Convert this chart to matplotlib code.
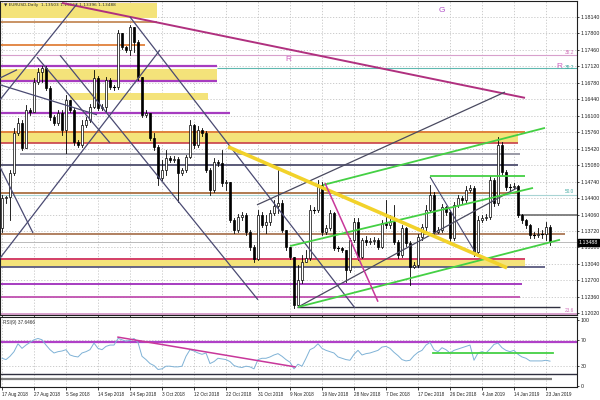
import numpy as np
import matplotlib
matplotlib.use("Agg")
import matplotlib.pyplot as plt
import matplotlib.transforms as mtransforms

# --------------------------------------------------------------------------- #
# Data (EURUSD daily, MT4 style, bar index 0 = 17 Aug 2018)
# --------------------------------------------------------------------------- #
first_open = 1.1378
closes = [1.1440, 1.1442, 1.1492, 1.1575, 1.1595, 1.1544, 1.1622, 1.1618, 1.1680, 1.1700,
          1.1709, 1.1667, 1.1608, 1.1595, 1.1616, 1.1581, 1.1643, 1.1622, 1.1556, 1.1550,
          1.1591, 1.1601, 1.1628, 1.1688, 1.1626, 1.1628, 1.1684, 1.1669, 1.1669, 1.1781,
          1.1752, 1.1746, 1.1793, 1.1762, 1.1690, 1.1612, 1.1616, 1.1564, 1.1546, 1.1482,
          1.1498, 1.1523, 1.1519, 1.1521, 1.1492, 1.1498, 1.1525, 1.1591, 1.1550, 1.1581,
          1.1575, 1.1498, 1.1457, 1.1515, 1.1513, 1.1471, 1.1473, 1.1395, 1.1374, 1.1401,
          1.1405, 1.1370, 1.1339, 1.1314, 1.1405, 1.1385, 1.1391, 1.1409, 1.1424, 1.1430,
          1.1374, 1.1339, 1.1318, 1.1219, 1.1271, 1.1308, 1.1316, 1.1415, 1.1415, 1.1467,
          1.1370, 1.1378, 1.1409, 1.1337, 1.1337, 1.1333, 1.1292, 1.1354, 1.1391, 1.1318,
          1.1354, 1.1349, 1.1351, 1.1354, 1.1339, 1.1389, 1.1385, 1.1391, 1.1349, 1.1323,
          1.1378, 1.1347, 1.1298, 1.1302, 1.1360, 1.1380, 1.1415, 1.1446, 1.1370, 1.1374,
          1.1422, 1.1411, 1.1358, 1.1426, 1.1440, 1.1436, 1.1457, 1.1461, 1.1329, 1.1395,
          1.1399, 1.1401, 1.1477, 1.1430, 1.1550, 1.1494, 1.1463, 1.1463, 1.1465, 1.1405,
          1.1395, 1.1385, 1.1364, 1.1364, 1.1366, 1.1366, 1.1380, 1.1349]
highs = [1.1446, 1.1444, 1.1498, 1.1585, 1.1605, 1.1601, 1.1632, 1.1626, 1.1688, 1.1709,
         1.1713, 1.1713, 1.1672, 1.1612, 1.1622, 1.1622, 1.1653, 1.1643, 1.1626, 1.1560,
         1.1601, 1.1608, 1.1634, 1.1705, 1.1692, 1.1634, 1.1690, 1.1688, 1.1674, 1.1787,
         1.1781, 1.1754, 1.1797, 1.1767, 1.1767, 1.1690, 1.1622, 1.1601, 1.1575, 1.1550,
         1.1519, 1.1539, 1.1527, 1.1527, 1.1525, 1.1502, 1.1529, 1.1601, 1.1593, 1.1589,
         1.1585, 1.1579, 1.1502, 1.1523, 1.1519, 1.1539, 1.1477, 1.1473, 1.1399, 1.1407,
         1.1411, 1.1409, 1.1374, 1.1343, 1.1415, 1.1411, 1.1405, 1.1415, 1.1436, 1.1498,
         1.1436, 1.1370, 1.1325, 1.1316, 1.1302, 1.1323, 1.1333, 1.1426, 1.1422, 1.1477,
         1.1473, 1.1385, 1.1415, 1.1411, 1.1341, 1.1339, 1.1333, 1.1358, 1.1399, 1.1399,
         1.1358, 1.1362, 1.1358, 1.1360, 1.1358, 1.1395, 1.1436, 1.1405, 1.1426, 1.1354,
         1.1385, 1.1380, 1.1351, 1.1308, 1.1366, 1.1387, 1.1426, 1.1467, 1.1453, 1.1380,
         1.1428, 1.1424, 1.1415, 1.1432, 1.1446, 1.1444, 1.1465, 1.1467, 1.1465, 1.1403,
         1.1405, 1.1407, 1.1486, 1.1482, 1.1566, 1.1556, 1.1498, 1.1469, 1.1471, 1.1467,
         1.1407, 1.1397, 1.1387, 1.1370, 1.1378, 1.1374, 1.1391, 1.1385]
lows = [1.1370, 1.1430, 1.1395, 1.1488, 1.1570, 1.1539, 1.1544, 1.1612, 1.1618, 1.1676,
        1.1680, 1.1663, 1.1601, 1.1591, 1.1591, 1.1570, 1.1533, 1.1618, 1.1550, 1.1546,
        1.1546, 1.1587, 1.1597, 1.1626, 1.1622, 1.1622, 1.1618, 1.1665, 1.1663, 1.1665,
        1.1748, 1.1742, 1.1736, 1.1742, 1.1684, 1.1608, 1.1608, 1.1560, 1.1539, 1.1467,
        1.1477, 1.1488, 1.1515, 1.1515, 1.1432, 1.1488, 1.1494, 1.1523, 1.1544, 1.1546,
        1.1568, 1.1494, 1.1446, 1.1453, 1.1506, 1.1465, 1.1457, 1.1391, 1.1368, 1.1370,
        1.1395, 1.1364, 1.1333, 1.1308, 1.1312, 1.1380, 1.1368, 1.1385, 1.1405, 1.1409,
        1.1370, 1.1333, 1.1314, 1.1213, 1.1219, 1.1265, 1.1308, 1.1312, 1.1409, 1.1411,
        1.1364, 1.1366, 1.1374, 1.1333, 1.1331, 1.1329, 1.1267, 1.1287, 1.1349, 1.1312,
        1.1316, 1.1343, 1.1345, 1.1345, 1.1335, 1.1337, 1.1378, 1.1378, 1.1345, 1.1316,
        1.1318, 1.1341, 1.1261, 1.1296, 1.1298, 1.1354, 1.1374, 1.1411, 1.1362, 1.1368,
        1.1370, 1.1405, 1.1351, 1.1354, 1.1422, 1.1430, 1.1432, 1.1453, 1.1320, 1.1323,
        1.1391, 1.1395, 1.1397, 1.1424, 1.1426, 1.1488, 1.1457, 1.1457, 1.1459, 1.1401,
        1.1389, 1.1378, 1.1358, 1.1358, 1.1360, 1.1358, 1.1354, 1.1343]

rsi = [42, 40, 45, 52, 64, 57, 62, 66, 70, 72, 70, 62, 55, 50, 52, 53, 55, 47, 45, 44,
       50, 52, 55, 65, 57, 55, 60, 62, 62, 72, 70, 68, 69, 72, 66, 45, 40, 34, 31, 25,
       26, 30, 30, 29, 29, 30, 45, 55, 53, 50, 48, 50, 34, 37, 42, 41, 40, 37, 31, 29,
       28, 30, 29, 26, 40, 42, 42, 44, 47, 49, 45, 40, 36, 26, 33, 30, 42, 55, 58, 64,
       57, 54, 52, 50, 44, 42, 40, 39, 48, 54, 47, 49, 50, 52, 54, 59, 60, 57, 51, 46,
       40, 38, 39, 46, 51, 54, 62, 66, 55, 52, 58, 55, 50, 54, 56, 58, 60, 62, 39, 50,
       52, 50, 56, 63, 65, 58, 54, 52, 54, 48, 44, 42, 38, 38, 38, 38, 39, 37.6466]

date_labels = ["17 Aug 2018", "27 Aug 2018", "5 Sep 2018", "14 Sep 2018", "24 Sep 2018",
               "3 Oct 2018", "12 Oct 2018", "22 Oct 2018", "31 Oct 2018", "9 Nov 2018",
               "19 Nov 2018", "28 Nov 2018", "7 Dec 2018", "17 Dec 2018", "26 Dec 2018",
               "4 Jan 2019", "14 Jan 2019", "23 Jan 2019"]
bars_per_label = 8
price_ticks = [1.12020, 1.12360, 1.12700, 1.13040, 1.13380, 1.13720, 1.14060, 1.14400,
               1.14740, 1.15080, 1.15420, 1.15760, 1.16100, 1.16440, 1.16780, 1.17120,
               1.17460, 1.17800, 1.18140]
rsi_ticks = [0, 30, 70, 100]
bid = 1.13488
header = "EURUSD,Daily  1.13503 1.13667 1.13396 1.13488"

# horizontal levels: price, first bar, last bar
lvl_price = [1.1847, 1.1804, 1.1756, 1.1713, 1.1682, 1.1616, 1.1736, 1.1709,
             1.1577, 1.1554, 1.1531, 1.1508, 1.1451, 1.1446, 1.1405, 1.1366,
             1.1314, 1.1298, 1.1263, 1.1236, 1.1215, 1.1201]
lvl_start = [-0.5, -0.5, -0.5, -0.5, -0.5, -0.5, -0.5, 53.8,
             -0.5, -0.5, 4.5, -0.5, -0.5, -0.5, 128.8, -0.5,
             -0.5, -0.5, -0.5, -0.5, 73.8, -0.5]
lvl_end = [38.8, 38.8, 35.8, 53.8, 53.8, 57.0, 144, 144,
           130.8, 129.0, 129.5, 129.0, 129.5, 144, 144, 140.8,
           130.8, 135.8, 130.0, 129.5, 139.5, 144]
lvl_color = ["#a63cc0", "#c0804a", "#e0803a", "#a63cc0", "#a63cc0", "#a63cc0", "#d8a0cc", "#5fb8b0",
             "#e0803a", "#c8404a", "#9a9aa6", "#5a5a78", "#b07a50", "#a8d4d4", "#707070", "#b08060",
             "#d0305a", "#5a5a80", "#a63cc0", "#c050b0", "#303040", "#d8a0cc"]
lvl_lw = [1.6, 1.2, 1.3, 1.6, 1.6, 1.6, 0.8, 0.8,
          1.4, 1.2, 1.4, 1.4, 1.4, 0.8, 1.2, 1.4,
          1.3, 1.3, 1.4, 1.3, 1.0, 1.4]

# yellow zones: low, high, first bar, last bar
zone_low = [1.1812, 1.1684, 1.1643, 1.1554, 1.1298]
zone_high = [1.1843, 1.1707, 1.1657, 1.1574, 1.1312]
zone_start = [-0.5, -0.5, 17.0, -0.5, -0.5]
zone_end = [38.8, 53.8, 51.5, 129.0, 130.8]

# trend lines: (bar, price) -> (bar, price)
tl_x0 = [15.0, -0.5, -0.5, 8.75, -0.5, -0.5, 32.0, -0.5, 14.5, 63.75, 74.0, 107.0,
         72.0, 80.25, 74.0, 107.0, 56.5, 80.75]
tl_y0 = [1.1843, 1.1316, 1.1643, 1.1731, 1.1674, 1.1688, 1.1814, 1.1504, 1.1735, 1.1426,
         1.1215, 1.1484, 1.1341, 1.1467, 1.1215, 1.1486, 1.1546, 1.1471]
tl_x1 = [130.75, 39.5, 18.75, 27.0, 23.75, 3.75, 88.25, 7.75, 64.0, 125.75, 128.75, 118.25,
         132.75, 135.75, 139.5, 130.75, 126.25, 94.0]
tl_y1 = [1.1647, 1.1746, 1.1841, 1.1554, 1.1612, 1.1705, 1.1213, 1.1368, 1.1230, 1.1659,
         1.1461, 1.1329, 1.1461, 1.1585, 1.1354, 1.1486, 1.1296, 1.1226]
tl_color = ["#b0307f", "#4a4a72", "#4a4a72", "#4a4a72", "#4a4a72", "#4a4a72", "#4a4a72",
            "#4a4a72", "#4a4a72", "#4a4a60", "#4a4a60", "#4a4a72",
            "#44d044", "#44d044", "#44d044", "#44d044", "#f2d22a", "#c8379a"]
tl_lw = [1.4, 0.9, 0.9, 0.9, 0.9, 0.9, 0.9, 0.9, 0.9, 0.9, 0.9, 0.8,
         1.3, 1.3, 1.3, 1.3, 2.6, 1.1]

# fib / object labels in the chart
fib_text = ["38.2", "38.2", "50.0", "23.6"]
fib_price = [1.1741, 1.1710, 1.1453, 1.1207]
fib_color = ["#d070b8", "#40a8a0", "#40a8a0", "#d070b8"]

# RSI panel objects
rsi_lvl = [67, 18, 10.6]
rsi_lvl_color = ["#b040c8", "#303040", "#808080"]
rsi_lvl_end = [144, 144, 137.5]
rsi_lvl_lw = [1.6, 1.0, 1.6]
rsi_tl_x = [29.0, 73.25]
rsi_tl_y = [74, 29]
rsi_flat_x = [107.75, 137.75]
rsi_flat_y = 50

# --------------------------------------------------------------------------- #
# Figure
# --------------------------------------------------------------------------- #
plt.rcParams["font.family"] = ["Liberation Sans", "DejaVu Sans"]
fig = plt.figure(figsize=(6, 4), dpi=100)
fig.patch.set_facecolor("white")

ax = fig.add_axes([0.0, 0.2125, 577 / 600, 0.785])
rax = fig.add_axes([0.0, 0.0325, 577 / 600, 0.175])

x_lim = (-0.5, 143.75)
n = len(closes)
xs = np.arange(n)
opens = [first_open] + closes[:-1]

grid_kw = dict(color="#c4c4c4", linestyle=(0, (1.5, 2)), linewidth=0.6)
date_pos = [k * bars_per_label for k in range(len(date_labels))]

for a in (ax, rax):
    a.set_xlim(*x_lim)
    a.set_facecolor("white")
    a.set_xticks(date_pos)
    for v in date_pos:
        a.axvline(v, zorder=0, **grid_kw)
    for s in a.spines.values():
        s.set_color("#202020")
        s.set_linewidth(0.8)
    a.yaxis.tick_right()
    a.tick_params(axis="y", length=1.5, width=0.6, labelsize=3.8, pad=1, colors="#202020")
    a.tick_params(axis="x", length=2, width=0.6, colors="#202020")

ax.set_ylim(1.11986, 1.18470)
ax.set_yticks(price_ticks)
ax.set_yticklabels([f"{p:.5f}" for p in price_ticks])
ax.set_xticklabels([])
for p in price_ticks:
    ax.axhline(p, zorder=0, **grid_kw)

# zones and levels
for lo, hi, s, e in zip(zone_low, zone_high, zone_start, zone_end):
    ax.fill_between([s, e], lo, hi, color="#f4e37a", lw=0, zorder=1)
for p, s, e, c, w in zip(lvl_price, lvl_start, lvl_end, lvl_color, lvl_lw):
    ax.plot([s, e], [p, p], color=c, lw=w, zorder=2, solid_capstyle="butt")
ax.axhline(bid, color="#b0b0b0", lw=0.6, zorder=2)

# candles
for i in range(n):
    o, c, h, l = opens[i], closes[i], highs[i], lows[i]
    top, bot = max(o, c), min(o, c)
    ax.plot([i, i], [min(l, bot), max(h, top)], color="black", lw=0.6, zorder=4)
    body = top - bot
    if body < 0.00012:
        ax.plot([i - 0.35, i + 0.35], [c, c], color="black", lw=0.8, zorder=5)
    else:
        ax.bar(i, body, bottom=bot, width=0.62, color="white" if c >= o else "black",
               edgecolor="black", linewidth=0.5, zorder=5)

# trend lines
for x0, y0, x1, y1, c, w in zip(tl_x0, tl_y0, tl_x1, tl_y1, tl_color, tl_lw):
    ax.plot([x0, x1], [y0, y1], color=c, lw=w, zorder=6, solid_capstyle="butt")

# texts in main chart
ax.text(0.007, 0.993, "\u25bc " + header, transform=ax.transAxes, fontsize=3.1,
        color="#303030", va="top", ha="left", family=["DejaVu Sans"])
ax.text(110, 1.1828, "G", color="#b050c8", fontsize=6, ha="center", va="center")
ax.text(71.5, 1.1726, "R", color="#d060c0", fontsize=6, ha="center", va="center")
trans = mtransforms.blended_transform_factory(ax.transAxes, ax.transData)
for t, p, c in zip(fib_text, fib_price, fib_color):
    ax.text(0.995, p, t, transform=trans, fontsize=3.4, color=c, ha="right", va="center")
ax.text(0.974, 1.1712, "R", transform=trans, fontsize=6, color="#d060c0", ha="right", va="center")
ax.text(1.003, bid, f"{bid:.5f}", transform=trans, fontsize=3.8, color="white",
        ha="left", va="center",
        bbox=dict(boxstyle="square,pad=0.2", fc="black", ec="black"))

# RSI panel
rax.set_ylim(-1.5, 104.5)
rax.set_yticks(rsi_ticks)
rax.set_yticklabels([str(v) for v in rsi_ticks])
for v in (30, 70):
    rax.axhline(v, zorder=0, **grid_kw)
for v, c, e, w in zip(rsi_lvl, rsi_lvl_color, rsi_lvl_end, rsi_lvl_lw):
    rax.plot([x_lim[0], e], [v, v], color=c, lw=w, zorder=2, solid_capstyle="butt")
rax.plot(xs, rsi, color="#7fb2d6", lw=0.7, zorder=4)
rax.plot(rsi_tl_x, rsi_tl_y, color="#c8379a", lw=1.1, zorder=5)
rax.plot(rsi_flat_x, [rsi_flat_y, rsi_flat_y], color="#44d044", lw=1.3, zorder=5)
rax.text(0.006, 0.96, f"RSI(9) {rsi[-1]:.4f}", transform=rax.transAxes, fontsize=3.4,
         color="#303030", va="top", ha="left")
rax.set_xticklabels(date_labels, fontsize=3.3, ha="left", color="#202020")
rax.tick_params(axis="x", pad=1.5)

fig.savefig("out.png", dpi=100, facecolor="white")
